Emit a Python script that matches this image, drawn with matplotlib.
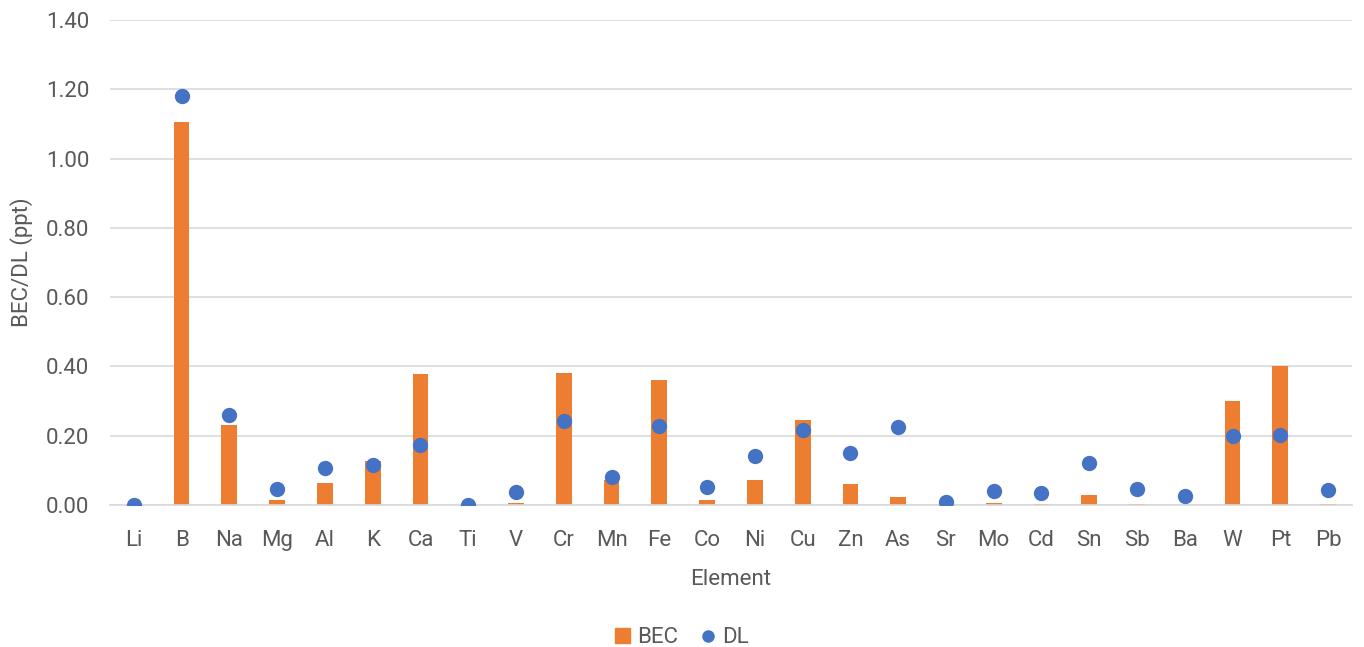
import numpy as np
import matplotlib.pyplot as plt
from matplotlib.lines import Line2D
from matplotlib.patches import Patch

plt.rcParams['font.family'] = ['Roboto', 'DejaVu Sans']

elements = ["Li", "B", "Na", "Mg", "Al", "K", "Ca", "Ti", "V", "Cr", "Mn", "Fe", "Co", "Ni",
            "Cu", "Zn", "As", "Sr", "Mo", "Cd", "Sn", "Sb", "Ba", "W", "Pt", "Pb"]
bec = [0.000, 1.107, 0.232, 0.015, 0.063, 0.128, 0.379, 0.000, 0.005, 0.381, 0.072, 0.362, 0.013,
       0.073, 0.244, 0.060, 0.022, 0.001, 0.005, 0.003, 0.029, 0.004, 0.001, 0.299, 0.400, 0.004]
dl = [0.000, 1.180, 0.261, 0.046, 0.107, 0.116, 0.172, 0.000, 0.038, 0.243, 0.082, 0.228, 0.052,
      0.140, 0.216, 0.151, 0.225, 0.008, 0.041, 0.036, 0.120, 0.046, 0.027, 0.200, 0.202, 0.044]

orange = "#ED7D31"
blue = "#4472C4"
txt = "#595959"
fs = 16

fig = plt.figure(figsize=(13.64, 6.47), dpi=100)
ax = fig.add_axes([0.0806, 0.2195, 0.9106, 0.7495])

x = np.arange(len(elements))
ax.bar(x, bec, width=0.33, color=orange, zorder=2)
ax.plot(x, dl, "o", color=blue, markersize=10, zorder=3)

ax.set_xlim(-0.5, len(elements) - 0.5)
ax.set_ylim(0, 1.40)
yt = np.arange(0, 1.41, 0.2)
ax.set_yticks(yt)
ax.set_yticklabels([f"{v:.2f}" for v in yt])
ax.set_xticks(x)
ax.set_xticklabels(elements)
ax.grid(axis="y", color="#D9D9D9", linewidth=1.2, zorder=0)
for s in ["top", "right", "left"]:
    ax.spines[s].set_visible(False)
ax.spines["bottom"].set_color("#D9D9D9")
ax.spines["bottom"].set_linewidth(1.2)
ax.tick_params(axis="both", length=0, labelsize=fs, colors=txt)
ax.tick_params(axis="y", pad=15)
ax.tick_params(axis="x", pad=18)

ax.set_xlabel("Element", fontsize=fs, color=txt, labelpad=13)
ax.set_ylabel("BEC/DL (ppt)", fontsize=fs, color=txt, labelpad=9)

handles = [Patch(color=orange, label="BEC"),
           Line2D([], [], marker="o", linestyle="none", color=blue, markersize=8, label="DL")]
fig.legend(handles=handles, loc="center", bbox_to_anchor=(0.5, 0.014), ncol=2, frameon=False,
           fontsize=fs, labelcolor=txt, handlelength=0.7, handleheight=0.7,
           handletextpad=0.3, columnspacing=1.0)

fig.savefig("out.png", dpi=100)
